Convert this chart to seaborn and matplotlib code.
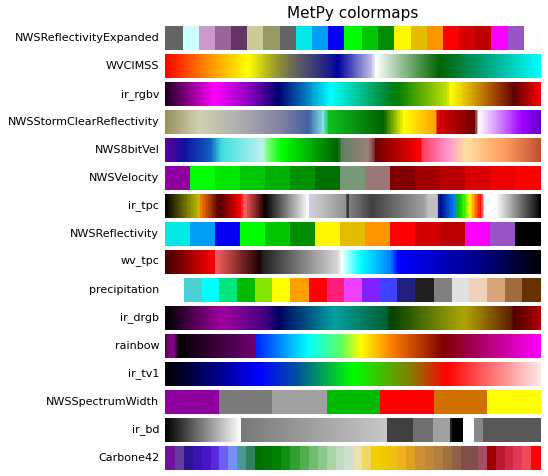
import numpy as np
import seaborn as sns
import matplotlib.pyplot as plt
from matplotlib.colors import ListedColormap, LinearSegmentedColormap

# colormap names, top to bottom
names = ['NWSReflectivityExpanded', 'WVCIMSS', 'ir_rgbv', 'NWSStormClearReflectivity',
         'NWS8bitVel', 'NWSVelocity', 'ir_tpc', 'NWSReflectivity', 'wv_tpc', 'precipitation',
         'ir_drgb', 'rainbow', 'ir_tv1', 'NWSSpectrumWidth', 'ir_bd', 'Carbone42']

# discrete tables
nws_refl_expanded = ['#646464', '#ccffff', '#cc99cc', '#996699', '#663366', '#cccc99', '#999966',
                     '#646464', '#04e9e7', '#019ff4', '#0300f4', '#02fd02', '#01c501', '#008e00',
                     '#fdf802', '#e5bc00', '#fd9500', '#fd0000', '#d40000', '#bc0000', '#f800fd',
                     '#9854c6', '#fdfdfd']
nws_velocity = ['#9000a0', '#00ff00', '#00e800', '#00c800', '#00b000', '#009000', '#007000',
                '#789878', '#997777', '#800000', '#a00000', '#b80000', '#d80000', '#ee0000', '#ff0000']
nws_refl = ['#04e9e7', '#019ff4', '#0300f4', '#02fd02', '#01c501', '#008e00', '#fdf802',
            '#e5bc00', '#fd9500', '#fd0000', '#d40000', '#bc0000', '#f800fd', '#9854c6', '#000000']
precipitation = ['#ffffff', '#4dd0d4', '#00ffff', '#00e67d', '#00b900', '#84e600', '#ffff00',
                 '#ffa000', '#ff0000', '#ff1f7b', '#f040ff', '#8020ff', '#4040ff', '#202080',
                 '#202020', '#808080', '#e0e0e0', '#eed2bb', '#d8a578', '#a06c3c', '#663300']
spectrum_width = ['#8e009e', '#7a7a7a', '#a0a0a0', '#00bb00', '#ff0000', '#d07000', '#ffff00']
carbone42 = ['#7010a0', '#6a3a9a', '#2a1490', '#3a12b0', '#4a14c8', '#5a28e0', '#6a60f8', '#7890ff',
             '#4a9898', '#308060', '#007000', '#007800', '#008000', '#109010', '#30a030', '#50b050',
             '#70bc70', '#8cc88c', '#a8d4a8', '#c0dcc0', '#d0e0d0', '#ece0b0', '#f0d860', '#f0d000',
             '#f0c800', '#f0c010', '#f0b020', '#e0a020', '#d09030', '#c08838', '#b08040', '#a07040',
             '#906048', '#805048', '#805050', '#a05060', '#a00000', '#b81830', '#d02840', '#e03858',
             '#f04858', '#ff0000']

# continuous anchors (position, colour)
wvcimss = [(0, '#ff0000'), (0.1, '#ff8000'), (0.22, '#ffff00'), (0.3, '#909030'), (0.35, '#606060'),
           (0.43, '#20208a'), (0.46, '#0000a0'), (0.55, '#c0c0e8'), (0.56, '#ffffff'),
           (0.62, '#a0c8a0'), (0.73, '#006400'), (0.85, '#00a078'), (1, '#00ffff')]
ir_rgbv = [(0, '#200020'), (0.13, '#ff00ff'), (0.22, '#9000c0'), (0.3, '#000070'), (0.36, '#0060b0'),
           (0.44, '#00ffff'), (0.52, '#00c090'), (0.6, '#008020'), (0.62, '#008000'),
           (0.75, '#c0e000'), (0.76, '#ffff00'), (0.82, '#d0a000'), (0.88, '#a04000'),
           (0.93, '#600000'), (1, '#ff0000')]
storm_clear = [(0, '#9a9060'), (0.09, '#d0d0b0'), (0.19, '#b0b0b0'), (0.31, '#8080a0'), (0.38, '#4060a0'),
               (0.42, '#80e0e8'), (0.435, '#10c020'), (0.58, '#006000'), (0.635, '#ffff00'),
               (0.72, '#ffa000'), (0.723, '#e00000'), (0.825, '#700000'), (0.834, '#ffffff'),
               (0.95, '#a000ff'), (1, '#6000d0')]
nws8bitvel = [(0, '#6000a0'), (0.05, '#1010a0'), (0.12, '#1060c0'), (0.15, '#40e0e0'), (0.26, '#c0f0f0'),
              (0.27, '#80ff80'), (0.31, '#00ff00'), (0.46, '#006000'), (0.47, '#608060'),
              (0.54, '#a08080'), (0.555, '#804040'), (0.56, '#700000'), (0.68, '#ff0000'),
              (0.685, '#ff4060'), (0.75, '#ff90d0'), (0.8, '#ffe0a0'), (0.9, '#ffa060'), (1, '#c05030')]
ir_tpc = [(0, '#000000'), (0.09, '#c0c000'), (0.091, '#ff8000'), (0.14, '#600000'), (0.15, '#600000'),
          (0.2, '#ff0000'), (0.21, '#ff6060'), (0.26, '#300000'), (0.265, '#000000'), (0.38, '#ffffff'),
          (0.385, '#c0c0ff'), (0.39, '#d0d0d0'), (0.48, '#909090'), (0.485, '#202020'),
          (0.49, '#808080'), (0.55, '#404040'), (0.69, '#a0a0a0'), (0.7, '#c0c0c0'),
          (0.725, '#c0c0c0'), (0.73, '#000080'), (0.77, '#0080ff'), (0.78, '#00c000'),
          (0.8, '#40ff00'), (0.81, '#ffff00'), (0.84, '#ff0000'), (0.85, '#ffffff'),
          (0.88, '#ffffff'), (1, '#000000')]
wv_tpc = [(0, '#400000'), (0.13, '#ff0000'), (0.131, '#ff6060'), (0.25, '#200000'), (0.26, '#202020'),
          (0.46, '#d8d8d8'), (0.47, '#ffffff'), (0.48, '#c0ffff'), (0.52, '#00ffff'),
          (0.6, '#0080ff'), (0.62, '#0000ff'), (0.85, '#000080'), (1, '#000000')]
ir_drgb = [(0, '#000000'), (0.15, '#a000a0'), (0.27, '#400080'), (0.3, '#000060'), (0.45, '#00a0a0'),
           (0.59, '#006030'), (0.6, '#004000'), (0.78, '#a0a000'), (0.8, '#b0a000'),
           (0.92, '#602000'), (0.93, '#500000'), (1, '#b00000')]
rainbow = [(0, '#202020'), (0.008, '#800080'), (0.026, '#800080'), (0.03, '#000000'), (0.24, '#700070'),
           (0.241, '#0020ff'), (0.38, '#00ffff'), (0.47, '#60ff60'), (0.52, '#ffff00'),
           (0.6, '#ff8000'), (0.74, '#800000'), (0.82, '#a00050'), (1, '#ff00ff')]
ir_tv1 = [(0, '#000000'), (0.1, '#000060'), (0.25, '#0000ff'), (0.35, '#0050a0'), (0.5, '#00ff00'),
          (0.65, '#808000'), (0.75, '#ff0000'), (0.85, '#ff6060'), (1, '#ffe8e8')]
ir_bd = [(0, '#000000'), (0.2, '#ffffff'), (0.201, '#787878'), (0.59, '#c8c8c8'), (0.591, '#404040'),
         (0.66, '#404040'), (0.661, '#707070'), (0.71, '#707070'), (0.711, '#a0a0a0'),
         (0.76, '#a0a0a0'), (0.761, '#000000'), (0.795, '#000000'), (0.796, '#ffffff'),
         (0.82, '#ffffff'), (0.821, '#888888'), (0.845, '#888888'), (0.846, '#585858'), (1, '#585858')]

tables = {
    'NWSReflectivityExpanded': nws_refl_expanded, 'WVCIMSS': wvcimss, 'ir_rgbv': ir_rgbv,
    'NWSStormClearReflectivity': storm_clear, 'NWS8bitVel': nws8bitvel, 'NWSVelocity': nws_velocity,
    'ir_tpc': ir_tpc, 'NWSReflectivity': nws_refl, 'wv_tpc': wv_tpc, 'precipitation': precipitation,
    'ir_drgb': ir_drgb, 'rainbow': rainbow, 'ir_tv1': ir_tv1, 'NWSSpectrumWidth': spectrum_width,
    'ir_bd': ir_bd, 'Carbone42': carbone42,
}


def make_cmap(name, spec):
    if isinstance(spec[0], tuple):
        return LinearSegmentedColormap.from_list(name, spec, N=256)
    return ListedColormap(spec, name=name)


gradient = np.linspace(0, 1, 256).reshape(1, -1)

fig, axes = plt.subplots(len(names), 1, figsize=(5.48, 4.76), dpi=100)
fig.subplots_adjust(top=0.945, bottom=0.013, left=0.301, right=0.988, hspace=0.17)

for ax, name in zip(axes, names):
    sns.heatmap(gradient, cmap=make_cmap(name, tables[name]), vmin=0, vmax=1, cbar=False,
                xticklabels=False, yticklabels=False, ax=ax)
    ax.text(-0.015, 0.5, name, transform=ax.transAxes, ha='right', va='center', fontsize=8)
    ax.set_axis_off()

axes[0].set_title('MetPy colormaps', fontsize=11)

fig.savefig('out.png', dpi=100)
